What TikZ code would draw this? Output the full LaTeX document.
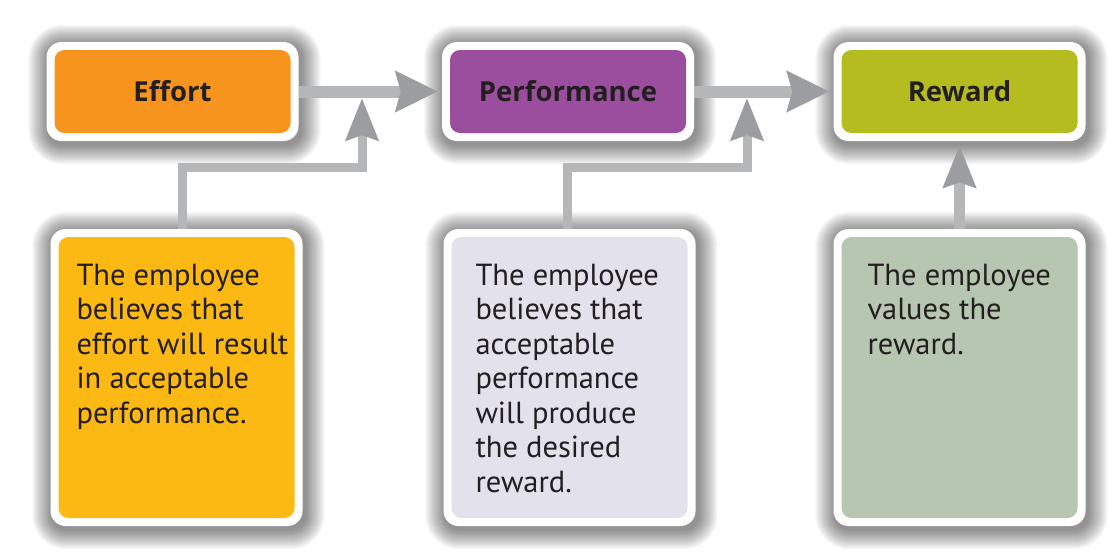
\documentclass[tikz,border=0pt]{standalone}
\usepackage{fontspec}
\setmainfont{PT Sans}
\newfontfamily\labelfont{Open Sans}
\usetikzlibrary{arrows.meta,backgrounds,calc}
\definecolor{effortc}{HTML}{F7941D}
\definecolor{perfc}{HTML}{9B4E9D}
\definecolor{rewardc}{HTML}{B4BC1F}
\definecolor{yellowc}{HTML}{FDB913}
\definecolor{lavc}{HTML}{E2E1EC}
\definecolor{sagec}{HTML}{B6C6B0}
\definecolor{txt}{HTML}{231F20}
\definecolor{shaftgray}{HTML}{B5B6B8}
\definecolor{headgray}{HTML}{9C9DA0}
\begin{document}
\begin{tikzpicture}[x=1pt,y=-1pt,
  box/.style={fill=white, draw=none, rounded corners=15pt, inner sep=0pt,
    path picture={\fill[#1, rounded corners=10pt]
      ([shift={(8pt,8pt)}]path picture bounding box.south west) rectangle
      ([shift={(-8pt,-8pt)}]path picture bounding box.north east);}},
  topbox/.style={box=#1, minimum width=252pt, minimum height=99pt, text=txt,
    font=\labelfont\bfseries\fontsize{27.5}{30}\selectfont},
  botbox/.style={box=#1, minimum width=252pt, minimum height=297pt},
  btext/.style={anchor=north west, inner sep=0pt, align=left, text=txt,
    font=\fontsize{30.5}{34.5}\selectfont},
  shadowlayer/.style={fill=black, fill opacity=0.028},
  mainarrow/.style={draw=shaftgray, line width=12pt,
    -{Stealth[length=42pt,width=40pt,inset=5pt,color=headgray]}},
  feed/.style={draw=shaftgray, line width=9pt,
    -{Stealth[length=42pt,width=32pt,inset=5pt,color=headgray]}},
]
\path[use as bounding box] (0,0) rectangle (1109,554);

\node[topbox=effortc] (effort) at (172.5,91.5) {Effort};
\node[topbox=perfc] (perf) at (568,91.5) {Performance};
\node[topbox=rewardc] (reward) at (959.5,91.5) {Reward};

\node[botbox=yellowc] (b1) at (176.5,377.5) {};
\node[botbox=lavc] (b2) at (569.5,377.5) {};
\node[botbox=sagec] (b3) at (959.5,377.5) {};

\begin{pgfonlayer}{background}
\foreach \n in {effort,perf,reward,b1,b2,b3}{
  \foreach \e in {1,...,20}{
    \pgfmathsetmacro{\rc}{14+\e}
    \fill[shadowlayer, rounded corners=\rc pt]
      ([shift={(2pt-\e pt,-3pt+\e pt)}]\n.north west) rectangle
      ([shift={(2pt+\e pt,-3pt-\e pt)}]\n.south east);
  }
}
\end{pgfonlayer}

\node[btext] (t1) at ([xshift=26pt,yshift=-35pt]b1.north west)
  {The employee\\believes that\\effort will result\\in acceptable\\performance.};
\node[btext] (t2) at ([xshift=32pt,yshift=-35pt]b2.north west)
  {The employee\\believes that\\acceptable\\performance\\will produce\\the desired\\reward.};
\node[btext] (t3) at ([xshift=34pt,yshift=-35pt]b3.north west)
  {The employee\\values the\\reward.};

\coordinate (m1) at (362,98);
\coordinate (m2) at (747,98);

\draw[mainarrow, shorten >=4pt] (effort.east) -- (perf.west);
\draw[mainarrow, shorten >=4pt] (perf.east) -- (reward.west);
\draw[feed] ([xshift=6pt]b1.north) -- ++(0,-61) -| (m1);
\draw[feed] ([xshift=-2pt]b2.north) -- ++(0,-61) -| (m2);
\draw[mainarrow, line width=11pt,
  -{Stealth[length=42pt,width=32pt,inset=5pt,color=headgray]},
  shorten >=4pt] (b3.north) -- (reward.south);
\end{tikzpicture}
\end{document}
